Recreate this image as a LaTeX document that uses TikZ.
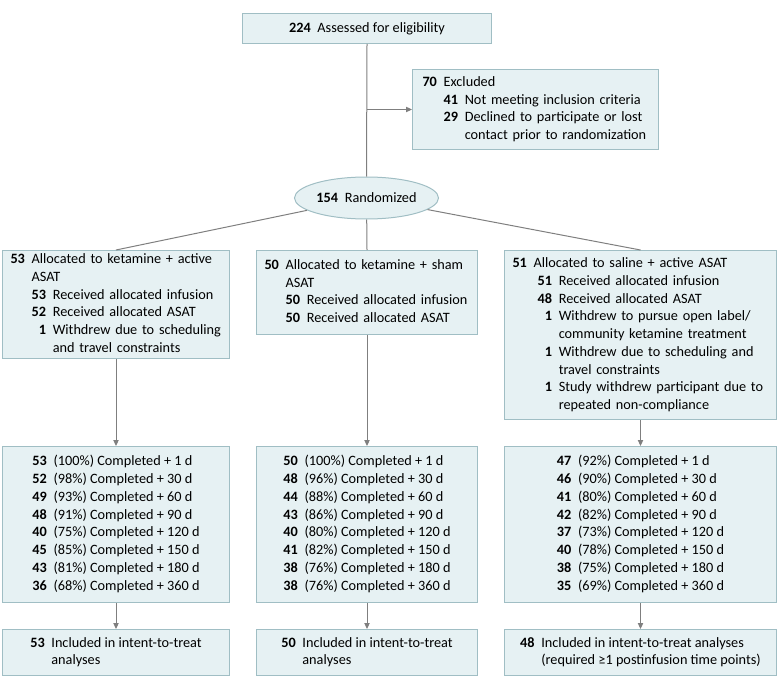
\documentclass[tikz,border=0pt]{standalone}
\usepackage{fontspec}
\setmainfont{Carlito}
\usetikzlibrary{shapes.geometric,arrows.meta}

\definecolor{boxfill}{HTML}{E6F1F3}
\definecolor{boxline}{HTML}{A0BEC4}
\definecolor{linkgray}{HTML}{7F7F7F}

\newcommand{\spantext}[1]{\multicolumn{2}{@{}l@{}}{#1}}

\begin{document}
\begin{tikzpicture}[x=0.75pt, y=-0.75pt,
  every node/.style={font=\fontsize{10.7}{13.3}\selectfont},
  box/.style={draw=boxline, fill=boxfill, line width=0.75pt, inner sep=0pt, anchor=north west},
  listbox/.style={box, align=left, inner xsep=6pt, text width=#1},
  countbox/.style={box, minimum width=#1, minimum height=117pt},
  ittbox/.style={box, minimum width=#1, minimum height=34.5pt},
  link/.style={draw=linkgray, line width=0.75pt},
  arrow/.style={link, -{Triangle[width=4pt,length=4.5pt]}}]

\useasboundingbox (0,0) rectangle (780,688);

% Top
\node [box, minimum width=186.75pt, minimum height=22.5pt] (assess) at (242,13)
  {\textbf{224}\hspace{5pt}Assessed for eligibility};

\node [box, align=left, inner xsep=7.5pt, text width=169.5pt, minimum height=60pt] (excl) at (412,69)
  {\begin{tabular}{@{}r@{\hspace{5pt}}r@{\hspace{5pt}}l@{}}
   \textbf{70} & \spantext{Excluded}\\
    & \textbf{41} & Not meeting inclusion criteria\\
    & \textbf{29} & Declined to participate or lost\\
    & & contact prior to randomization
   \end{tabular}};

\node [ellipse, draw=boxline, fill=boxfill, line width=0.75pt, inner sep=0pt,
  minimum width=108pt, minimum height=31.5pt] (rand) at (366.5,198)
  {\textbf{154}\hspace{5pt}Randomized};

% Allocation
\node [listbox=158.25pt, minimum height=81pt] (alloc1) at (2,250)
  {\begin{tabular}{@{}r@{\hspace{5pt}}r@{\hspace{5pt}}l@{}}
   \textbf{53} & \spantext{Allocated to ketamine + active}\\
    & \spantext{ASAT}\\
    & \textbf{53} & Received allocated infusion\\
    & \textbf{52} & Received allocated ASAT\\
    & \textbf{1} & Withdrew due to scheduling\\
    & & and travel constraints
   \end{tabular}};

\node [listbox=153.75pt, minimum height=63pt] (alloc2) at (256,250)
  {\begin{tabular}{@{}r@{\hspace{5pt}}r@{\hspace{5pt}}l@{}}
   \textbf{50} & \spantext{Allocated to ketamine + sham}\\
    & \spantext{ASAT}\\
    & \textbf{50} & Received allocated infusion\\
    & \textbf{50} & Received allocated ASAT
   \end{tabular}};

\node [listbox=192pt, minimum height=126.75pt] (alloc3) at (504,250)
  {\begin{tabular}{@{}r@{\hspace{5pt}}r@{\hspace{5pt}}l@{}}
   \textbf{51} & \spantext{Allocated to saline + active ASAT}\\
    & \hspace{3pt}\textbf{51} & Received allocated infusion\\
    & \textbf{48} & Received allocated ASAT\\
    & \textbf{1} & Withdrew to pursue open label/\\
    & & community ketamine treatment\\
    & \textbf{1} & Withdrew due to scheduling and\\
    & & travel constraints\\
    & \textbf{1} & Study withdrew participant due to\\
    & & repeated non-compliance
   \end{tabular}};

% Follow-up
\node [countbox=170.25pt] (comp1) at (2,446)
  {\begin{tabular}{@{}r@{\hspace{5pt}}l@{}}
   \textbf{53} & (100\%) Completed + 1 d\\
   \textbf{52} & (98\%) Completed + 30 d\\
   \textbf{49} & (93\%) Completed + 60 d\\
   \textbf{48} & (91\%) Completed + 90 d\\
   \textbf{40} & (75\%) Completed + 120 d\\
   \textbf{45} & (85\%) Completed + 150 d\\
   \textbf{43} & (81\%) Completed + 180 d\\
   \textbf{36} & (68\%) Completed + 360 d
   \end{tabular}};

\node [countbox=165.75pt] (comp2) at (256,446)
  {\begin{tabular}{@{}r@{\hspace{5pt}}l@{}}
   \textbf{50} & (100\%) Completed + 1 d\\
   \textbf{48} & (96\%) Completed + 30 d\\
   \textbf{44} & (88\%) Completed + 60 d\\
   \textbf{43} & (86\%) Completed + 90 d\\
   \textbf{40} & (80\%) Completed + 120 d\\
   \textbf{41} & (82\%) Completed + 150 d\\
   \textbf{38} & (76\%) Completed + 180 d\\
   \textbf{38} & (76\%) Completed + 360 d
   \end{tabular}};

\node [countbox=204pt] (comp3) at (504,446)
  {\begin{tabular}{@{}r@{\hspace{5pt}}l@{}}
   \textbf{47} & (92\%) Completed + 1 d\\
   \textbf{46} & (90\%) Completed + 30 d\\
   \textbf{41} & (80\%) Completed + 60 d\\
   \textbf{42} & (82\%) Completed + 90 d\\
   \textbf{37} & (73\%) Completed + 120 d\\
   \textbf{40} & (78\%) Completed + 150 d\\
   \textbf{38} & (75\%) Completed + 180 d\\
   \textbf{35} & (69\%) Completed + 360 d
   \end{tabular}};

% Analysis
\node [ittbox=170.25pt] (itt1) at (2,629)
  {\begin{tabular}{@{}r@{\hspace{5pt}}l@{}}
   \textbf{53} & Included in intent-to-treat\\
    & analyses
   \end{tabular}};

\node [ittbox=165.75pt] (itt2) at (256,629)
  {\begin{tabular}{@{}r@{\hspace{5pt}}l@{}}
   \textbf{50} & Included in intent-to-treat\\
    & analyses
   \end{tabular}};

\node [ittbox=204pt] (itt3) at (504,629)
  {\begin{tabular}{@{}r@{\hspace{5pt}}l@{}}
   \textbf{48} & Included in intent-to-treat analyses\\
    & (required ≥1 postinfusion time points)
   \end{tabular}};

% Connectors
\draw [link] (assess.south) -- (rand.north);
\draw [arrow] (assess.south |- excl.west) -- (excl.west);

\draw [link] (rand) -- (alloc1.north);
\draw [link] (rand) -- (alloc2.north);
\draw [link] (rand) -- (alloc3.north);

\draw [arrow] (alloc1.south) -- (comp1.north);
\draw [arrow] (alloc2.south) -- (comp2.north);
\draw [arrow] (alloc3.south) -- (comp3.north);

\draw [arrow] (comp1.south) -- (itt1.north);
\draw [arrow] (comp2.south) -- (itt2.north);
\draw [arrow] (comp3.south) -- (itt3.north);
\end{tikzpicture}
\end{document}
